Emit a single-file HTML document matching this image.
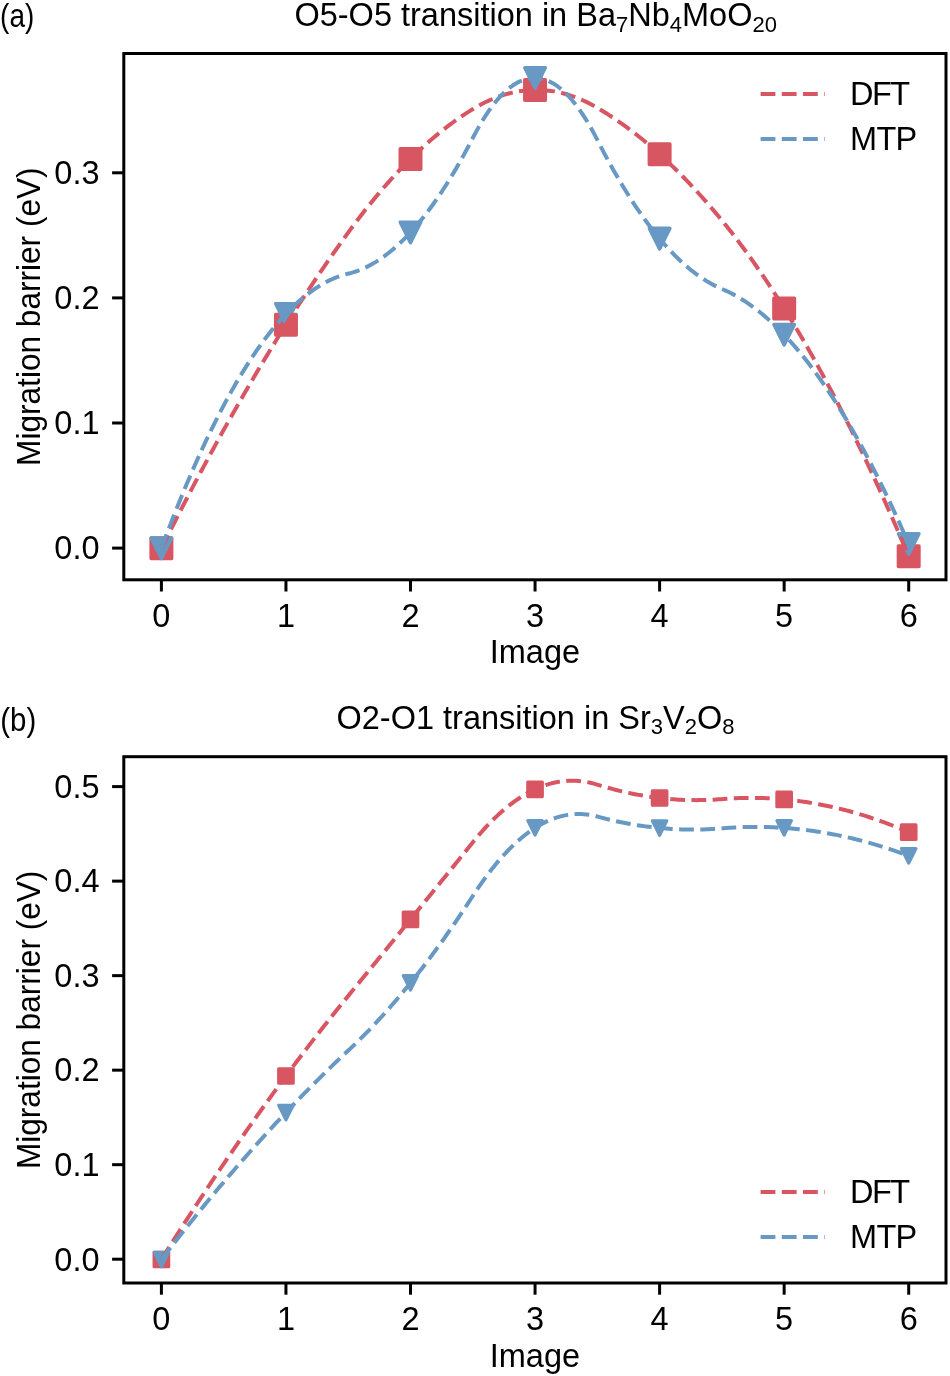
<!DOCTYPE html>
<html><head><meta charset="utf-8"><style>
html,body{margin:0;padding:0;background:#fff;}
svg{display:block;will-change:transform;}
text{font-family:"Liberation Sans",sans-serif;font-size:32.5px;fill:#000;}
</style></head><body>
<svg width="950" height="1376" viewBox="0 0 950 1376">
<rect width="950" height="1376" fill="#fff"/>
<rect x="151.15" y="538.05" width="20.50" height="20.50" fill="#d85562" stroke="#d85562" stroke-width="3.5" stroke-linejoin="round"/>
<rect x="275.70" y="314.45" width="20.50" height="20.50" fill="#d85562" stroke="#d85562" stroke-width="3.5" stroke-linejoin="round"/>
<rect x="400.25" y="148.65" width="20.50" height="20.50" fill="#d85562" stroke="#d85562" stroke-width="3.5" stroke-linejoin="round"/>
<rect x="524.80" y="79.65" width="20.50" height="20.50" fill="#d85562" stroke="#d85562" stroke-width="3.5" stroke-linejoin="round"/>
<rect x="649.35" y="143.95" width="20.50" height="20.50" fill="#d85562" stroke="#d85562" stroke-width="3.5" stroke-linejoin="round"/>
<rect x="773.90" y="298.15" width="20.50" height="20.50" fill="#d85562" stroke="#d85562" stroke-width="3.5" stroke-linejoin="round"/>
<rect x="898.45" y="545.95" width="20.50" height="20.50" fill="#d85562" stroke="#d85562" stroke-width="3.5" stroke-linejoin="round"/>
<polygon points="161.40,558.55 151.15,538.05 171.65,538.05" fill="#6799c4" stroke="#6799c4" stroke-width="3.5" stroke-linejoin="round"/>
<polygon points="285.95,324.15 275.70,303.65 296.20,303.65" fill="#6799c4" stroke="#6799c4" stroke-width="3.5" stroke-linejoin="round"/>
<polygon points="410.50,242.65 400.25,222.15 420.75,222.15" fill="#6799c4" stroke="#6799c4" stroke-width="3.5" stroke-linejoin="round"/>
<polygon points="535.05,88.25 524.80,67.75 545.30,67.75" fill="#6799c4" stroke="#6799c4" stroke-width="3.5" stroke-linejoin="round"/>
<polygon points="659.60,248.85 649.35,228.35 669.85,228.35" fill="#6799c4" stroke="#6799c4" stroke-width="3.5" stroke-linejoin="round"/>
<polygon points="784.15,344.95 773.90,324.45 794.40,324.45" fill="#6799c4" stroke="#6799c4" stroke-width="3.5" stroke-linejoin="round"/>
<polygon points="908.70,554.25 898.45,533.75 918.95,533.75" fill="#6799c4" stroke="#6799c4" stroke-width="3.5" stroke-linejoin="round"/>
<path d="M161.40,548.30 L163.90,543.30 L166.40,538.32 L168.90,533.36 L171.40,528.42 L173.90,523.50 L176.40,518.60 L178.90,513.73 L181.39,508.87 L183.89,504.04 L186.39,499.23 L188.89,494.44 L191.39,489.67 L193.89,484.92 L196.39,480.19 L198.89,475.48 L201.39,470.80 L203.89,466.13 L206.39,461.49 L208.89,456.87 L211.39,452.27 L213.89,447.69 L216.39,443.13 L218.88,438.59 L221.38,434.07 L223.88,429.58 L226.38,425.10 L228.88,420.65 L231.38,416.21 L233.88,411.80 L236.38,407.41 L238.88,403.04 L241.38,398.70 L243.88,394.37 L246.38,390.06 L248.88,385.78 L251.38,381.52 L253.88,377.27 L256.37,373.05 L258.87,368.85 L261.37,364.67 L263.87,360.51 L266.37,356.38 L268.87,352.26 L271.37,348.17 L273.87,344.09 L276.37,340.04 L278.87,336.01 L281.37,332.00 L283.87,328.01 L286.37,324.04 L288.87,320.09 L291.37,316.17 L293.86,312.26 L296.36,308.38 L298.86,304.52 L301.36,300.67 L303.86,296.85 L306.36,293.05 L308.86,289.28 L311.36,285.52 L313.86,281.78 L316.36,278.07 L318.86,274.37 L321.36,270.70 L323.86,267.05 L326.36,263.42 L328.86,259.81 L331.35,256.22 L333.85,252.65 L336.35,249.11 L338.85,245.58 L341.35,242.08 L343.85,238.60 L346.35,235.13 L348.85,231.69 L351.35,228.29 L353.85,224.92 L356.35,221.59 L358.85,218.30 L361.35,215.05 L363.85,211.83 L366.35,208.66 L368.84,205.52 L371.34,202.42 L373.84,199.36 L376.34,196.34 L378.84,193.36 L381.34,190.41 L383.84,187.51 L386.34,184.64 L388.84,181.81 L391.34,179.02 L393.84,176.27 L396.34,173.55 L398.84,170.88 L401.34,168.24 L403.84,165.64 L406.33,163.08 L408.83,160.56 L411.33,158.08 L413.83,155.63 L416.33,153.23 L418.83,150.86 L421.33,148.53 L423.83,146.24 L426.33,143.99 L428.83,141.77 L431.33,139.60 L433.83,137.46 L436.33,135.36 L438.83,133.30 L441.33,131.28 L443.82,129.30 L446.32,127.36 L448.82,125.45 L451.32,123.58 L453.82,121.75 L456.32,119.96 L458.82,118.21 L461.32,116.50 L463.82,114.82 L466.32,113.19 L468.82,111.59 L471.32,110.03 L473.82,108.51 L476.32,107.05 L478.82,105.65 L481.31,104.30 L483.81,103.02 L486.31,101.80 L488.81,100.63 L491.31,99.53 L493.81,98.48 L496.31,97.50 L498.81,96.58 L501.31,95.71 L503.81,94.91 L506.31,94.16 L508.81,93.48 L511.31,92.85 L513.81,92.29 L516.31,91.78 L518.80,91.34 L521.30,90.95 L523.80,90.63 L526.30,90.36 L528.80,90.15 L531.30,90.01 L533.80,89.92 L536.30,89.89 L538.80,89.93 L541.30,90.02 L543.80,90.17 L546.30,90.39 L548.80,90.66 L551.30,90.99 L553.79,91.38 L556.29,91.84 L558.79,92.35 L561.29,92.92 L563.79,93.55 L566.29,94.24 L568.79,94.99 L571.29,95.81 L573.79,96.68 L576.29,97.61 L578.79,98.60 L581.29,99.65 L583.79,100.76 L586.29,101.93 L588.79,103.16 L591.28,104.45 L593.78,105.80 L596.28,107.21 L598.78,108.67 L601.28,110.17 L603.78,111.70 L606.28,113.27 L608.78,114.86 L611.28,116.49 L613.78,118.15 L616.28,119.84 L618.78,121.56 L621.28,123.31 L623.78,125.10 L626.28,126.92 L628.77,128.77 L631.27,130.65 L633.77,132.56 L636.27,134.51 L638.77,136.48 L641.27,138.49 L643.77,140.53 L646.27,142.61 L648.77,144.71 L651.27,146.85 L653.77,149.02 L656.27,151.22 L658.77,153.45 L661.27,155.71 L663.77,158.01 L666.26,160.34 L668.76,162.70 L671.26,165.09 L673.76,167.51 L676.26,169.97 L678.76,172.45 L681.26,174.97 L683.76,177.52 L686.26,180.11 L688.76,182.72 L691.26,185.37 L693.76,188.05 L696.26,190.76 L698.76,193.50 L701.26,196.27 L703.75,199.08 L706.25,201.92 L708.75,204.79 L711.25,207.69 L713.75,210.62 L716.25,213.59 L718.75,216.58 L721.25,219.61 L723.75,222.67 L726.25,225.78 L728.75,228.92 L731.25,232.09 L733.75,235.31 L736.25,238.56 L738.75,241.86 L741.24,245.19 L743.74,248.56 L746.24,251.97 L748.74,255.42 L751.24,258.90 L753.74,262.43 L756.24,265.99 L758.74,269.59 L761.24,273.24 L763.74,276.91 L766.24,280.63 L768.74,284.39 L771.24,288.18 L773.74,292.01 L776.24,295.89 L778.73,299.80 L781.23,303.74 L783.73,307.73 L786.23,311.76 L788.73,315.82 L791.23,319.92 L793.73,324.07 L796.23,328.24 L798.73,332.46 L801.23,336.72 L803.73,341.01 L806.23,345.35 L808.73,349.72 L811.23,354.13 L813.73,358.58 L816.22,363.07 L818.72,367.60 L821.22,372.16 L823.72,376.76 L826.22,381.41 L828.72,386.09 L831.22,390.80 L833.72,395.56 L836.22,400.36 L838.72,405.19 L841.22,410.07 L843.72,414.98 L846.22,419.93 L848.72,424.92 L851.22,429.94 L853.71,435.01 L856.21,440.11 L858.71,445.26 L861.21,450.44 L863.71,455.66 L866.21,460.92 L868.71,466.21 L871.21,471.55 L873.71,476.92 L876.21,482.33 L878.71,487.78 L881.21,493.27 L883.71,498.80 L886.21,504.37 L888.71,509.97 L891.20,515.62 L893.70,521.30 L896.20,527.02 L898.70,532.78 L901.20,538.58 L903.70,544.41 L906.20,550.29 L908.70,556.20" fill="none" stroke="#d85562" stroke-width="4.0" stroke-dasharray="14.8 6.4"/>
<path d="M161.40,548.30 L163.90,541.58 L166.40,534.94 L168.90,528.39 L171.40,521.91 L173.90,515.52 L176.40,509.22 L178.90,502.99 L181.39,496.85 L183.89,490.79 L186.39,484.81 L188.89,478.92 L191.39,473.11 L193.89,467.38 L196.39,461.73 L198.89,456.17 L201.39,450.68 L203.89,445.29 L206.39,439.97 L208.89,434.74 L211.39,429.58 L213.89,424.52 L216.39,419.53 L218.88,414.63 L221.38,409.81 L223.88,405.07 L226.38,400.41 L228.88,395.84 L231.38,391.35 L233.88,386.94 L236.38,382.62 L238.88,378.37 L241.38,374.21 L243.88,370.14 L246.38,366.14 L248.88,362.23 L251.38,358.40 L253.88,354.65 L256.37,350.99 L258.87,347.41 L261.37,343.91 L263.87,340.49 L266.37,337.16 L268.87,333.91 L271.37,330.74 L273.87,327.65 L276.37,324.65 L278.87,321.73 L281.37,318.89 L283.87,316.13 L286.37,313.46 L288.87,310.87 L291.37,308.36 L293.86,305.94 L296.36,303.59 L298.86,301.33 L301.36,299.16 L303.86,297.06 L306.36,295.05 L308.86,293.12 L311.36,291.27 L313.86,289.51 L316.36,287.83 L318.86,286.23 L321.36,284.71 L323.86,283.28 L326.36,281.92 L328.86,280.66 L331.35,279.47 L333.85,278.36 L336.35,277.34 L338.85,276.41 L341.35,275.55 L343.85,274.78 L346.35,274.09 L348.85,273.47 L351.35,272.82 L353.85,272.08 L356.35,271.26 L358.85,270.35 L361.35,269.36 L363.85,268.28 L366.35,267.11 L368.84,265.86 L371.34,264.52 L373.84,263.10 L376.34,261.59 L378.84,260.00 L381.34,258.32 L383.84,256.56 L386.34,254.70 L388.84,252.77 L391.34,250.75 L393.84,248.64 L396.34,246.45 L398.84,244.17 L401.34,241.80 L403.84,239.35 L406.33,236.82 L408.83,234.20 L411.33,231.49 L413.83,228.70 L416.33,225.82 L418.83,222.85 L421.33,219.80 L423.83,216.67 L426.33,213.45 L428.83,210.14 L431.33,206.75 L433.83,203.27 L436.33,199.71 L438.83,196.06 L441.33,192.32 L443.82,188.50 L446.32,184.60 L448.82,180.61 L451.32,176.53 L453.82,172.37 L456.32,168.12 L458.82,163.78 L461.32,159.36 L463.82,154.86 L466.32,150.27 L468.82,145.59 L471.32,140.83 L473.82,136.01 L476.32,131.33 L478.82,126.85 L481.31,122.57 L483.81,118.48 L486.31,114.59 L488.81,110.90 L491.31,107.40 L493.81,104.10 L496.31,101.00 L498.81,98.09 L501.31,95.38 L503.81,92.87 L506.31,90.55 L508.81,88.43 L511.31,86.50 L513.81,84.77 L516.31,83.24 L518.80,81.90 L521.30,80.76 L523.80,79.82 L526.30,79.07 L528.80,78.52 L531.30,78.16 L533.80,78.01 L536.30,78.04 L538.80,78.28 L541.30,78.71 L543.80,79.34 L546.30,80.16 L548.80,81.18 L551.30,82.40 L553.79,83.81 L556.29,85.42 L558.79,87.22 L561.29,89.23 L563.79,91.42 L566.29,93.82 L568.79,96.41 L571.29,99.20 L573.79,102.18 L576.29,105.36 L578.79,108.74 L581.29,112.31 L583.79,116.08 L586.29,120.05 L588.79,124.21 L591.28,128.57 L593.78,133.12 L596.28,137.87 L598.78,142.77 L601.28,147.62 L603.78,152.39 L606.28,157.08 L608.78,161.69 L611.28,166.23 L613.78,170.69 L616.28,175.07 L618.78,179.37 L621.28,183.59 L623.78,187.74 L626.28,191.80 L628.77,195.79 L631.27,199.71 L633.77,203.54 L636.27,207.30 L638.77,210.98 L641.27,214.58 L643.77,218.10 L646.27,221.54 L648.77,224.91 L651.27,228.20 L653.77,231.41 L656.27,234.54 L658.77,237.60 L661.27,240.58 L663.77,243.48 L666.26,246.30 L668.76,249.04 L671.26,251.71 L673.76,254.29 L676.26,256.80 L678.76,259.24 L681.26,261.59 L683.76,263.87 L686.26,266.07 L688.76,268.19 L691.26,270.23 L693.76,272.19 L696.26,274.08 L698.76,275.89 L701.26,277.62 L703.75,279.27 L706.25,280.85 L708.75,282.34 L711.25,283.76 L713.75,285.11 L716.25,286.37 L718.75,287.56 L721.25,288.66 L723.75,289.73 L726.25,290.86 L728.75,292.05 L731.25,293.31 L733.75,294.63 L736.25,296.01 L738.75,297.45 L741.24,298.96 L743.74,300.53 L746.24,302.16 L748.74,303.86 L751.24,305.62 L753.74,307.45 L756.24,309.33 L758.74,311.28 L761.24,313.30 L763.74,315.37 L766.24,317.51 L768.74,319.72 L771.24,321.98 L773.74,324.31 L776.24,326.71 L778.73,329.16 L781.23,331.68 L783.73,334.26 L786.23,336.91 L788.73,339.62 L791.23,342.39 L793.73,345.23 L796.23,348.12 L798.73,351.09 L801.23,354.11 L803.73,357.20 L806.23,360.35 L808.73,363.57 L811.23,366.84 L813.73,370.19 L816.22,373.59 L818.72,377.06 L821.22,380.59 L823.72,384.18 L826.22,387.84 L828.72,391.56 L831.22,395.34 L833.72,399.19 L836.22,403.10 L838.72,407.07 L841.22,411.11 L843.72,415.21 L846.22,419.37 L848.72,423.60 L851.22,427.89 L853.71,432.24 L856.21,436.66 L858.71,441.14 L861.21,445.68 L863.71,450.29 L866.21,454.96 L868.71,459.69 L871.21,464.48 L873.71,469.34 L876.21,474.26 L878.71,479.25 L881.21,484.30 L883.71,489.41 L886.21,494.58 L888.71,499.82 L891.20,505.12 L893.70,510.49 L896.20,515.91 L898.70,521.40 L901.20,526.96 L903.70,532.58 L906.20,538.26 L908.70,544.00" fill="none" stroke="#6799c4" stroke-width="4.0" stroke-dasharray="14.8 6.4"/>
<rect x="123.8" y="53.5" width="822.2" height="526.3" fill="none" stroke="#000" stroke-width="3.0" stroke-linejoin="miter"/>
<line x1="161.40" y1="579.8" x2="161.40" y2="591.50" stroke="#000" stroke-width="3.0"/>
<text x="161.40" y="627.20" text-anchor="middle">0</text>
<line x1="285.95" y1="579.8" x2="285.95" y2="591.50" stroke="#000" stroke-width="3.0"/>
<text x="285.95" y="627.20" text-anchor="middle">1</text>
<line x1="410.50" y1="579.8" x2="410.50" y2="591.50" stroke="#000" stroke-width="3.0"/>
<text x="410.50" y="627.20" text-anchor="middle">2</text>
<line x1="535.05" y1="579.8" x2="535.05" y2="591.50" stroke="#000" stroke-width="3.0"/>
<text x="535.05" y="627.20" text-anchor="middle">3</text>
<line x1="659.60" y1="579.8" x2="659.60" y2="591.50" stroke="#000" stroke-width="3.0"/>
<text x="659.60" y="627.20" text-anchor="middle">4</text>
<line x1="784.15" y1="579.8" x2="784.15" y2="591.50" stroke="#000" stroke-width="3.0"/>
<text x="784.15" y="627.20" text-anchor="middle">5</text>
<line x1="908.70" y1="579.8" x2="908.70" y2="591.50" stroke="#000" stroke-width="3.0"/>
<text x="908.70" y="627.20" text-anchor="middle">6</text>
<line x1="123.8" y1="548.10" x2="112.10" y2="548.10" stroke="#000" stroke-width="3.0"/>
<text x="99.5" y="559.40" text-anchor="end">0.0</text>
<line x1="123.8" y1="423.00" x2="112.10" y2="423.00" stroke="#000" stroke-width="3.0"/>
<text x="99.5" y="434.30" text-anchor="end">0.1</text>
<line x1="123.8" y1="297.90" x2="112.10" y2="297.90" stroke="#000" stroke-width="3.0"/>
<text x="99.5" y="309.20" text-anchor="end">0.2</text>
<line x1="123.8" y1="172.80" x2="112.10" y2="172.80" stroke="#000" stroke-width="3.0"/>
<text x="99.5" y="184.10" text-anchor="end">0.3</text>
<text x="534.90" y="663.30" text-anchor="middle">Image</text>
<text transform="translate(40.2,316.65) rotate(-90)" text-anchor="middle" textLength="298.5" lengthAdjust="spacingAndGlyphs">Migration barrier (eV)</text>
<text x="535.7" y="26.2" text-anchor="middle">O5-O5 transition in Ba<tspan font-size="22" dy="5.6">7</tspan><tspan dy="-5.6">Nb</tspan><tspan font-size="22" dy="5.6">4</tspan><tspan dy="-5.6">MoO</tspan><tspan font-size="22" dy="5.6">20</tspan></text>
<text transform="translate(0.1,27.3) scale(0.86,1)">(a)</text>
<line x1="760.6" y1="94.0" x2="824.8" y2="94.0" stroke="#d85562" stroke-width="4.0" stroke-dasharray="14.8 6.4"/>
<text x="850" y="105.0" textLength="60.20" lengthAdjust="spacing">DFT</text>
<line x1="760.6" y1="139.0" x2="824.8" y2="139.0" stroke="#6799c4" stroke-width="4.0" stroke-dasharray="14.8 6.4"/>
<text x="850" y="150.0" textLength="67.31" lengthAdjust="spacing">MTP</text>
<rect x="154.15" y="1252.25" width="14.50" height="14.50" fill="#d85562" stroke="#d85562" stroke-width="3.2" stroke-linejoin="round"/>
<rect x="278.70" y="1068.75" width="14.50" height="14.50" fill="#d85562" stroke="#d85562" stroke-width="3.2" stroke-linejoin="round"/>
<rect x="403.25" y="912.15" width="14.50" height="14.50" fill="#d85562" stroke="#d85562" stroke-width="3.2" stroke-linejoin="round"/>
<rect x="527.80" y="782.05" width="14.50" height="14.50" fill="#d85562" stroke="#d85562" stroke-width="3.2" stroke-linejoin="round"/>
<rect x="652.35" y="790.75" width="14.50" height="14.50" fill="#d85562" stroke="#d85562" stroke-width="3.2" stroke-linejoin="round"/>
<rect x="776.90" y="792.15" width="14.50" height="14.50" fill="#d85562" stroke="#d85562" stroke-width="3.2" stroke-linejoin="round"/>
<rect x="901.45" y="824.95" width="14.50" height="14.50" fill="#d85562" stroke="#d85562" stroke-width="3.2" stroke-linejoin="round"/>
<polygon points="161.40,1266.75 154.15,1252.25 168.65,1252.25" fill="#6799c4" stroke="#6799c4" stroke-width="3.2" stroke-linejoin="round"/>
<polygon points="285.95,1119.75 278.70,1105.25 293.20,1105.25" fill="#6799c4" stroke="#6799c4" stroke-width="3.2" stroke-linejoin="round"/>
<polygon points="410.50,990.15 403.25,975.65 417.75,975.65" fill="#6799c4" stroke="#6799c4" stroke-width="3.2" stroke-linejoin="round"/>
<polygon points="535.05,835.15 527.80,820.65 542.30,820.65" fill="#6799c4" stroke="#6799c4" stroke-width="3.2" stroke-linejoin="round"/>
<polygon points="659.60,835.25 652.35,820.75 666.85,820.75" fill="#6799c4" stroke="#6799c4" stroke-width="3.2" stroke-linejoin="round"/>
<polygon points="784.15,835.15 776.90,820.65 791.40,820.65" fill="#6799c4" stroke="#6799c4" stroke-width="3.2" stroke-linejoin="round"/>
<polygon points="908.70,863.05 901.45,848.55 915.95,848.55" fill="#6799c4" stroke="#6799c4" stroke-width="3.2" stroke-linejoin="round"/>
<path d="M161.40,1259.50 L163.90,1255.51 L166.40,1251.54 L168.90,1247.57 L171.40,1243.62 L173.90,1239.69 L176.40,1235.76 L178.90,1231.85 L181.39,1227.95 L183.89,1224.06 L186.39,1220.19 L188.89,1216.33 L191.39,1212.48 L193.89,1208.64 L196.39,1204.81 L198.89,1201.00 L201.39,1197.20 L203.89,1193.41 L206.39,1189.64 L208.89,1185.88 L211.39,1182.13 L213.89,1178.39 L216.39,1174.66 L218.88,1170.95 L221.38,1167.25 L223.88,1163.56 L226.38,1159.89 L228.88,1156.23 L231.38,1152.58 L233.88,1148.94 L236.38,1145.31 L238.88,1141.70 L241.38,1138.10 L243.88,1134.51 L246.38,1130.94 L248.88,1127.38 L251.38,1123.83 L253.88,1120.29 L256.37,1116.76 L258.87,1113.25 L261.37,1109.75 L263.87,1106.26 L266.37,1102.79 L268.87,1099.33 L271.37,1095.88 L273.87,1092.44 L276.37,1089.01 L278.87,1085.60 L281.37,1082.20 L283.87,1078.81 L286.37,1075.44 L288.87,1072.08 L291.37,1068.73 L293.86,1065.39 L296.36,1062.06 L298.86,1058.75 L301.36,1055.45 L303.86,1052.16 L306.36,1048.89 L308.86,1045.63 L311.36,1042.38 L313.86,1039.14 L316.36,1035.91 L318.86,1032.70 L321.36,1029.50 L323.86,1026.31 L326.36,1023.14 L328.86,1019.98 L331.35,1016.83 L333.85,1013.69 L336.35,1010.56 L338.85,1007.45 L341.35,1004.35 L343.85,1001.26 L346.35,998.19 L348.85,995.13 L351.35,992.07 L353.85,989.01 L356.35,985.94 L358.85,982.88 L361.35,979.82 L363.85,976.75 L366.35,973.69 L368.84,970.62 L371.34,967.56 L373.84,964.49 L376.34,961.42 L378.84,958.35 L381.34,955.28 L383.84,952.21 L386.34,949.14 L388.84,946.07 L391.34,942.99 L393.84,939.92 L396.34,936.84 L398.84,933.77 L401.34,930.69 L403.84,927.61 L406.33,924.53 L408.83,921.45 L411.33,918.37 L413.83,915.29 L416.33,912.21 L418.83,909.13 L421.33,906.04 L423.83,902.96 L426.33,899.87 L428.83,896.79 L431.33,893.70 L433.83,890.61 L436.33,887.52 L438.83,884.43 L441.33,881.34 L443.82,878.25 L446.32,875.16 L448.82,872.07 L451.32,868.97 L453.82,865.88 L456.32,862.78 L458.82,859.69 L461.32,856.59 L463.82,853.49 L466.32,850.39 L468.82,847.29 L471.32,844.19 L473.82,841.10 L476.32,838.07 L478.82,835.11 L481.31,832.24 L483.81,829.44 L486.31,826.72 L488.81,824.08 L491.31,821.52 L493.81,819.04 L496.31,816.63 L498.81,814.30 L501.31,812.05 L503.81,809.88 L506.31,807.78 L508.81,805.77 L511.31,803.83 L513.81,801.97 L516.31,800.19 L518.80,798.48 L521.30,796.85 L523.80,795.31 L526.30,793.83 L528.80,792.44 L531.30,791.13 L533.80,789.89 L536.30,788.73 L538.80,787.65 L541.30,786.65 L543.80,785.72 L546.30,784.87 L548.80,784.10 L551.30,783.41 L553.79,782.80 L556.29,782.26 L558.79,781.81 L561.29,781.43 L563.79,781.13 L566.29,780.90 L568.79,780.76 L571.29,780.69 L573.79,780.70 L576.29,780.79 L578.79,780.95 L581.29,781.20 L583.79,781.52 L586.29,781.92 L588.79,782.40 L591.28,782.96 L593.78,783.59 L596.28,784.30 L598.78,785.08 L601.28,785.84 L603.78,786.58 L606.28,787.30 L608.78,788.00 L611.28,788.69 L613.78,789.35 L616.28,789.99 L618.78,790.62 L621.28,791.22 L623.78,791.81 L626.28,792.37 L628.77,792.91 L631.27,793.44 L633.77,793.94 L636.27,794.43 L638.77,794.89 L641.27,795.34 L643.77,795.76 L646.27,796.17 L648.77,796.56 L651.27,796.92 L653.77,797.27 L656.27,797.60 L658.77,797.90 L661.27,798.19 L663.77,798.46 L666.26,798.70 L668.76,798.93 L671.26,799.14 L673.76,799.33 L676.26,799.50 L678.76,799.64 L681.26,799.77 L683.76,799.88 L686.26,799.97 L688.76,800.04 L691.26,800.09 L693.76,800.12 L696.26,800.13 L698.76,800.12 L701.26,800.09 L703.75,800.04 L706.25,799.97 L708.75,799.88 L711.25,799.77 L713.75,799.64 L716.25,799.50 L718.75,799.33 L721.25,799.14 L723.75,798.94 L726.25,798.76 L728.75,798.60 L731.25,798.45 L733.75,798.32 L736.25,798.21 L738.75,798.11 L741.24,798.04 L743.74,797.98 L746.24,797.93 L748.74,797.91 L751.24,797.90 L753.74,797.91 L756.24,797.93 L758.74,797.98 L761.24,798.04 L763.74,798.12 L766.24,798.21 L768.74,798.32 L771.24,798.45 L773.74,798.60 L776.24,798.77 L778.73,798.95 L781.23,799.15 L783.73,799.36 L786.23,799.60 L788.73,799.85 L791.23,800.11 L793.73,800.40 L796.23,800.70 L798.73,801.02 L801.23,801.36 L803.73,801.71 L806.23,802.09 L808.73,802.47 L811.23,802.88 L813.73,803.30 L816.22,803.74 L818.72,804.20 L821.22,804.68 L823.72,805.17 L826.22,805.68 L828.72,806.21 L831.22,806.75 L833.72,807.31 L836.22,807.89 L838.72,808.49 L841.22,809.10 L843.72,809.73 L846.22,810.38 L848.72,811.05 L851.22,811.73 L853.71,812.43 L856.21,813.15 L858.71,813.88 L861.21,814.63 L863.71,815.40 L866.21,816.19 L868.71,816.99 L871.21,817.81 L873.71,818.65 L876.21,819.51 L878.71,820.38 L881.21,821.27 L883.71,822.18 L886.21,823.10 L888.71,824.04 L891.20,825.00 L893.70,825.98 L896.20,826.97 L898.70,827.98 L901.20,829.01 L903.70,830.06 L906.20,831.12 L908.70,832.20" fill="none" stroke="#d85562" stroke-width="4.0" stroke-dasharray="14.8 6.4"/>
<path d="M161.40,1259.50 L163.90,1256.25 L166.40,1253.01 L168.90,1249.78 L171.40,1246.56 L173.90,1243.36 L176.40,1240.17 L178.90,1236.99 L181.39,1233.82 L183.89,1230.67 L186.39,1227.53 L188.89,1224.40 L191.39,1221.28 L193.89,1218.18 L196.39,1215.08 L198.89,1212.01 L201.39,1208.94 L203.89,1205.88 L206.39,1202.84 L208.89,1199.81 L211.39,1196.80 L213.89,1193.79 L216.39,1190.80 L218.88,1187.82 L221.38,1184.85 L223.88,1181.90 L226.38,1178.95 L228.88,1176.02 L231.38,1173.11 L233.88,1170.20 L236.38,1167.31 L238.88,1164.43 L241.38,1161.56 L243.88,1158.70 L246.38,1155.86 L248.88,1153.03 L251.38,1150.21 L253.88,1147.41 L256.37,1144.61 L258.87,1141.83 L261.37,1139.06 L263.87,1136.31 L266.37,1133.56 L268.87,1130.83 L271.37,1128.11 L273.87,1125.41 L276.37,1122.71 L278.87,1120.03 L281.37,1117.36 L283.87,1114.70 L286.37,1112.06 L288.87,1109.43 L291.37,1106.81 L293.86,1104.20 L296.36,1101.61 L298.86,1099.03 L301.36,1096.46 L303.86,1093.90 L306.36,1091.35 L308.86,1088.82 L311.36,1086.30 L313.86,1083.79 L316.36,1081.30 L318.86,1078.82 L321.36,1076.34 L323.86,1073.89 L326.36,1071.44 L328.86,1069.01 L331.35,1066.59 L333.85,1064.18 L336.35,1061.78 L338.85,1059.40 L341.35,1057.03 L343.85,1054.67 L346.35,1052.33 L348.85,1049.99 L351.35,1047.64 L353.85,1045.25 L356.35,1042.84 L358.85,1040.39 L361.35,1037.91 L363.85,1035.40 L366.35,1032.86 L368.84,1030.29 L371.34,1027.69 L373.84,1025.06 L376.34,1022.40 L378.84,1019.70 L381.34,1016.98 L383.84,1014.22 L386.34,1011.44 L388.84,1008.62 L391.34,1005.77 L393.84,1002.89 L396.34,999.98 L398.84,997.04 L401.34,994.06 L403.84,991.06 L406.33,988.03 L408.83,984.96 L411.33,981.86 L413.83,978.74 L416.33,975.58 L418.83,972.39 L421.33,969.17 L423.83,965.92 L426.33,962.64 L428.83,959.32 L431.33,955.98 L433.83,952.60 L436.33,949.20 L438.83,945.76 L441.33,942.29 L443.82,938.80 L446.32,935.27 L448.82,931.71 L451.32,928.11 L453.82,924.49 L456.32,920.84 L458.82,917.15 L461.32,913.44 L463.82,909.69 L466.32,905.91 L468.82,902.11 L471.32,898.27 L473.82,894.41 L476.32,890.62 L478.82,886.92 L481.31,883.32 L483.81,879.80 L486.31,876.38 L488.81,873.05 L491.31,869.81 L493.81,866.66 L496.31,863.60 L498.81,860.63 L501.31,857.76 L503.81,854.98 L506.31,852.28 L508.81,849.68 L511.31,847.18 L513.81,844.76 L516.31,842.43 L518.80,840.20 L521.30,838.05 L523.80,836.00 L526.30,834.04 L528.80,832.17 L531.30,830.39 L533.80,828.71 L536.30,827.11 L538.80,825.61 L541.30,824.20 L543.80,822.88 L546.30,821.65 L548.80,820.51 L551.30,819.47 L553.79,818.51 L556.29,817.65 L558.79,816.88 L561.29,816.19 L563.79,815.61 L566.29,815.11 L568.79,814.70 L571.29,814.39 L573.79,814.16 L576.29,814.03 L578.79,813.99 L581.29,814.04 L583.79,814.18 L586.29,814.42 L588.79,814.74 L591.28,815.16 L593.78,815.67 L596.28,816.27 L598.78,816.94 L601.28,817.60 L603.78,818.25 L606.28,818.87 L608.78,819.48 L611.28,820.08 L613.78,820.65 L616.28,821.21 L618.78,821.75 L621.28,822.27 L623.78,822.77 L626.28,823.25 L628.77,823.72 L631.27,824.17 L633.77,824.60 L636.27,825.01 L638.77,825.41 L641.27,825.78 L643.77,826.14 L646.27,826.48 L648.77,826.81 L651.27,827.11 L653.77,827.40 L656.27,827.67 L658.77,827.92 L661.27,828.15 L663.77,828.37 L666.26,828.57 L668.76,828.75 L671.26,828.91 L673.76,829.05 L676.26,829.18 L678.76,829.29 L681.26,829.38 L683.76,829.45 L686.26,829.50 L688.76,829.54 L691.26,829.56 L693.76,829.56 L696.26,829.54 L698.76,829.51 L701.26,829.46 L703.75,829.38 L706.25,829.30 L708.75,829.19 L711.25,829.06 L713.75,828.92 L716.25,828.76 L718.75,828.58 L721.25,828.39 L723.75,828.18 L726.25,827.99 L728.75,827.82 L731.25,827.66 L733.75,827.51 L736.25,827.38 L738.75,827.27 L741.24,827.17 L743.74,827.09 L746.24,827.02 L748.74,826.97 L751.24,826.93 L753.74,826.91 L756.24,826.91 L758.74,826.92 L761.24,826.94 L763.74,826.99 L766.24,827.04 L768.74,827.11 L771.24,827.20 L773.74,827.30 L776.24,827.42 L778.73,827.56 L781.23,827.71 L783.73,827.87 L786.23,828.05 L788.73,828.25 L791.23,828.46 L793.73,828.68 L796.23,828.93 L798.73,829.18 L801.23,829.46 L803.73,829.74 L806.23,830.05 L808.73,830.37 L811.23,830.70 L813.73,831.05 L816.22,831.42 L818.72,831.80 L821.22,832.20 L823.72,832.61 L826.22,833.03 L828.72,833.48 L831.22,833.94 L833.72,834.41 L836.22,834.90 L838.72,835.40 L841.22,835.92 L843.72,836.46 L846.22,837.01 L848.72,837.58 L851.22,838.16 L853.71,838.75 L856.21,839.37 L858.71,839.99 L861.21,840.64 L863.71,841.30 L866.21,841.97 L868.71,842.66 L871.21,843.37 L873.71,844.09 L876.21,844.82 L878.71,845.58 L881.21,846.34 L883.71,847.13 L886.21,847.92 L888.71,848.74 L891.20,849.57 L893.70,850.41 L896.20,851.27 L898.70,852.14 L901.20,853.04 L903.70,853.94 L906.20,854.86 L908.70,855.80" fill="none" stroke="#6799c4" stroke-width="4.0" stroke-dasharray="14.8 6.4"/>
<rect x="123.8" y="756.7" width="822.2" height="526.3" fill="none" stroke="#000" stroke-width="3.0" stroke-linejoin="miter"/>
<line x1="161.40" y1="1283.0" x2="161.40" y2="1294.70" stroke="#000" stroke-width="3.0"/>
<text x="161.40" y="1330.40" text-anchor="middle">0</text>
<line x1="285.95" y1="1283.0" x2="285.95" y2="1294.70" stroke="#000" stroke-width="3.0"/>
<text x="285.95" y="1330.40" text-anchor="middle">1</text>
<line x1="410.50" y1="1283.0" x2="410.50" y2="1294.70" stroke="#000" stroke-width="3.0"/>
<text x="410.50" y="1330.40" text-anchor="middle">2</text>
<line x1="535.05" y1="1283.0" x2="535.05" y2="1294.70" stroke="#000" stroke-width="3.0"/>
<text x="535.05" y="1330.40" text-anchor="middle">3</text>
<line x1="659.60" y1="1283.0" x2="659.60" y2="1294.70" stroke="#000" stroke-width="3.0"/>
<text x="659.60" y="1330.40" text-anchor="middle">4</text>
<line x1="784.15" y1="1283.0" x2="784.15" y2="1294.70" stroke="#000" stroke-width="3.0"/>
<text x="784.15" y="1330.40" text-anchor="middle">5</text>
<line x1="908.70" y1="1283.0" x2="908.70" y2="1294.70" stroke="#000" stroke-width="3.0"/>
<text x="908.70" y="1330.40" text-anchor="middle">6</text>
<line x1="123.8" y1="1259.20" x2="112.10" y2="1259.20" stroke="#000" stroke-width="3.0"/>
<text x="99.5" y="1270.50" text-anchor="end">0.0</text>
<line x1="123.8" y1="1164.68" x2="112.10" y2="1164.68" stroke="#000" stroke-width="3.0"/>
<text x="99.5" y="1175.98" text-anchor="end">0.1</text>
<line x1="123.8" y1="1070.16" x2="112.10" y2="1070.16" stroke="#000" stroke-width="3.0"/>
<text x="99.5" y="1081.46" text-anchor="end">0.2</text>
<line x1="123.8" y1="975.64" x2="112.10" y2="975.64" stroke="#000" stroke-width="3.0"/>
<text x="99.5" y="986.94" text-anchor="end">0.3</text>
<line x1="123.8" y1="881.12" x2="112.10" y2="881.12" stroke="#000" stroke-width="3.0"/>
<text x="99.5" y="892.42" text-anchor="end">0.4</text>
<line x1="123.8" y1="786.60" x2="112.10" y2="786.60" stroke="#000" stroke-width="3.0"/>
<text x="99.5" y="797.90" text-anchor="end">0.5</text>
<text x="534.90" y="1366.50" text-anchor="middle">Image</text>
<text transform="translate(40.2,1019.85) rotate(-90)" text-anchor="middle" textLength="298.5" lengthAdjust="spacingAndGlyphs">Migration barrier (eV)</text>
<text x="535.5" y="728.6" text-anchor="middle">O2-O1 transition in Sr<tspan font-size="22" dy="5.6">3</tspan><tspan dy="-5.6">V</tspan><tspan font-size="22" dy="5.6">2</tspan><tspan dy="-5.6">O</tspan><tspan font-size="22" dy="5.6">8</tspan></text>
<text transform="translate(0.3,730.6) scale(0.905,1)">(b)</text>
<line x1="760.6" y1="1192.0" x2="824.8" y2="1192.0" stroke="#d85562" stroke-width="4.0" stroke-dasharray="14.8 6.4"/>
<text x="850" y="1203.0" textLength="60.20" lengthAdjust="spacing">DFT</text>
<line x1="760.6" y1="1237.0" x2="824.8" y2="1237.0" stroke="#6799c4" stroke-width="4.0" stroke-dasharray="14.8 6.4"/>
<text x="850" y="1248.0" textLength="67.31" lengthAdjust="spacing">MTP</text>
</svg>
</body></html>
